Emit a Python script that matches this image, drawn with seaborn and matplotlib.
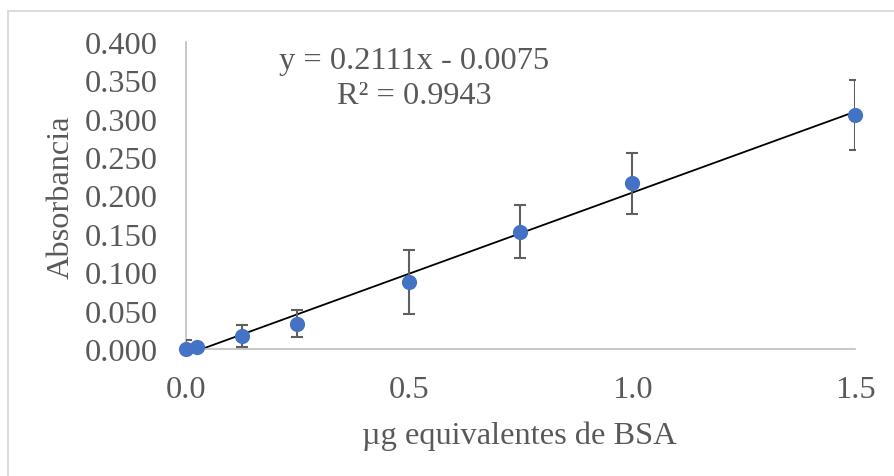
import matplotlib
matplotlib.use("Agg")
import matplotlib.pyplot as plt
import matplotlib.patches as mpatches
import numpy as np
import pandas as pd
import seaborn as sns

# Calibration data: BSA amount vs. absorbance (mean ± SD)
bsa_ug = [0.0, 0.025, 0.125, 0.25, 0.5, 0.75, 1.0, 1.5]
absorbance = [0.000, 0.002, 0.017, 0.033, 0.087, 0.153, 0.216, 0.305]
abs_sd = [0.012, 0.002, 0.014, 0.018, 0.042, 0.034, 0.040, 0.046]

slope = 0.2111
intercept = -0.0075
r_squared = 0.9943

x_ticks = [0.0, 0.5, 1.0, 1.5]
y_ticks = [0.000, 0.050, 0.100, 0.150, 0.200, 0.250, 0.300, 0.350, 0.400]

sns.set_theme(style="white")
plt.rcParams["font.family"] = ["Liberation Serif", "DejaVu Serif"]

FS = 23.3
W, H = 895, 477
fig = plt.figure(figsize=(W / 100, H / 100), dpi=100)

# chart-area frame (light grey, open at right/bottom)
fig.patches.append(mpatches.Rectangle((8 / W, -0.1), 1.2, 1 - 12 / H + 0.1,
                                      transform=fig.transFigure, fill=False,
                                      edgecolor="#D9D9D9", linewidth=1.3))

left, right, top, bottom = 186, 855, 43, 350
ax = fig.add_axes([left / W, 1 - bottom / H, (right - left) / W, (bottom - top) / H])

df = pd.DataFrame({"x": bsa_ug, "y": absorbance, "sd": abs_sd})

text_col = "#595959"

# linear trendline
xs = np.array([bsa_ug[0], bsa_ug[-1]])
trend = pd.DataFrame({"x": xs, "y": slope * xs + intercept})
sns.lineplot(data=trend, x="x", y="y", ax=ax, color="black", linewidth=1.3, zorder=2)

# error bars
ax.errorbar(df["x"], df["y"], yerr=df["sd"], fmt="none", ecolor="#5F5F5F",
            elinewidth=1.5, capsize=4.3, capthick=1.5, zorder=3)

# data points
sns.scatterplot(data=df, x="x", y="y", ax=ax, color="#4472C4", s=120,
                edgecolor="#4472C4", linewidth=0, zorder=4, clip_on=False)

ax.set_xlim(0, 1.5)
ax.set_ylim(0, 0.4)
ax.set_xticks(x_ticks)
ax.set_xticklabels([f"{v:.1f}" for v in x_ticks])
ax.set_yticks(y_ticks)
ax.set_yticklabels([f"{v:.3f}" for v in y_ticks])
ax.tick_params(axis="both", length=0, labelsize=FS, labelcolor=text_col)
ax.tick_params(axis="y", pad=20)
ax.tick_params(axis="x", pad=19)

for s in ["top", "right"]:
    ax.spines[s].set_visible(False)
for s in ["left", "bottom"]:
    ax.spines[s].set_color("#BFBFBF")
    ax.spines[s].set_linewidth(1.2)

ax.set_xlabel("")
ax.set_ylabel("")
fig.text(519 / W, 1 - 436 / H, "µg equivalentes de BSA", ha="center", va="center",
         fontsize=FS, color=text_col)
fig.text(61 / W, 1 - 197 / H, "Absorbancia", ha="center", va="center",
         rotation=90, fontsize=FS, color=text_col)

fig.text(414 / W, 1 - 62 / H, f"y = {slope:.4f}x - {abs(intercept):.4f}",
         ha="center", va="center", fontsize=FS, color=text_col)
fig.text(414 / W, 1 - 97 / H, f"R² = {r_squared:.4f}",
         ha="center", va="center", fontsize=FS, color=text_col)

fig.savefig("out.png", dpi=100, facecolor="white")
